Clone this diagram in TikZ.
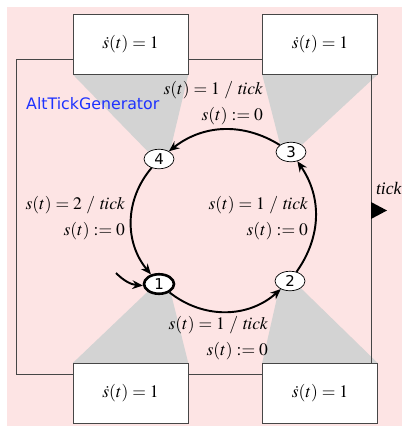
\documentclass[tikz,border=0pt]{standalone}
\usepackage{mathptmx}
\usepackage{fontspec}
\setmainfont{Liberation Serif}
\newfontfamily\guifont{DejaVu Sans}
\usepackage{tikz}
\usetikzlibrary{shapes.geometric,backgrounds,arrows.meta}
\definecolor{bgpink}{RGB}{253,228,228}
\definecolor{trapgray}{RGB}{211,211,211}
\definecolor{framegray}{RGB}{70,70,70}
\definecolor{nameblue}{RGB}{30,50,255}

\begin{document}
\begin{tikzpicture}[x=0.02cm,y=-0.02cm,>={Stealth[length=6pt,width=5pt,inset=2pt]},
      state node/.style={ellipse,draw,fill=white,inner sep=0pt,minimum width=0.6cm,
        minimum height=0.39cm,font=\guifont\fontsize{8.5}{9}\selectfont},
      flow box/.style={draw=framegray,fill=white,minimum width=2.3cm,minimum height=1.2cm},
      guard/.style={anchor=east,align=right,inner sep=1pt},
      trans/.style={->,line width=1.1pt}]
      \useasboundingbox (0,0) rectangle (402,426);

      \draw[framegray] (16,59) rectangle (371,374);

      \node[flow box] (f1) at (130.5,44) {$\dot s(t)=1$};
      \node[flow box] (f2) at (320,44) {$\dot s(t)=1$};
      \node[flow box] (f3) at (130.5,393.5) {$\dot s(t)=1$};
      \node[flow box] (f4) at (320,393.5) {$\dot s(t)=1$};

      \node[state node,line width=1.5pt] (l1) at (159,284) {1};
      \node[state node] (l2) at (290,281) {2};
      \node[state node] (l3) at (291,152) {3};
      \node[state node] (l4) at (159,159) {4};

      \node[anchor=west,text=nameblue,font=\guifont\fontsize{9}{10}\selectfont] (name) at (20,104) {AltTickGenerator};

      \fill (371,202) -- (387,210.5) -- (371,219) -- cycle;
      \node[anchor=west,inner sep=1pt] (tick) at (374,188) {\textit{tick}};

      \coordinate (init) at (116,273);
      \draw[trans] (init) to[bend right=20] (l1);

      \path[trans]
        (l4) edge[bend right=40] (l1)
        (l1) edge[bend right=40] (l2)
        (l2) edge[bend right=35] (l3)
        (l3) edge[bend right=35] (l4);

      \node[guard] (g34) at (265,103) {$s(t)=1\ /\ \mathit{tick}$\\[3pt]$s(t):=0$};
      \node[guard] (g41) at (127,218) {$s(t)=2\ /\ \mathit{tick}$\\[3pt]$s(t):=0$};
      \node[guard] (g23) at (310,218) {$s(t)=1\ /\ \mathit{tick}$\\[3pt]$s(t):=0$};
      \node[guard] (g12) at (270,338) {$s(t)=1\ /\ \mathit{tick}$\\[3pt]$s(t):=0$};

      \begin{scope}[on background layer]
        \fill[bgpink] (7,7) rectangle (402,426);
        \fill[trapgray] (f1.south west) -- (f1.south east) -- (l4.north east) -- (l4.north west) -- cycle;
        \fill[trapgray] (f2.south west) -- (f2.south east) -- (l3.north east) -- (l3.north west) -- cycle;
        \fill[trapgray] (f3.north west) -- (f3.north east) -- (l1.south east) -- (l1.south west) -- cycle;
        \fill[trapgray] (f4.north west) -- (f4.north east) -- (l2.south east) -- (l2.south west) -- cycle;
      \end{scope}
    \end{tikzpicture}
\end{document}
